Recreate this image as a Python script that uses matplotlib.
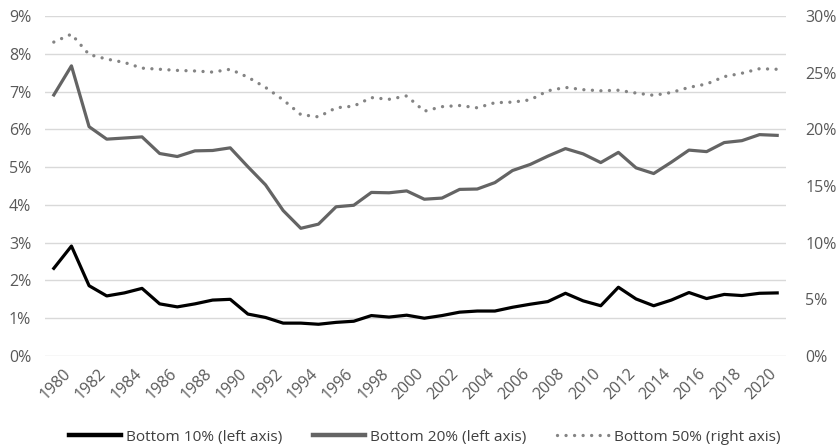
import numpy as np
import matplotlib.pyplot as plt
from matplotlib.ticker import FuncFormatter
from matplotlib.transforms import ScaledTranslation

plt.rcParams['font.family'] = ['Open Sans', 'DejaVu Sans']

years = list(range(1980, 2022))

# share of income, percent (left axis)
bottom10 = [2.32, 2.91, 1.86, 1.59, 1.67, 1.79, 1.38, 1.30, 1.38, 1.48, 1.50,
            1.11, 1.02, 0.87, 0.87, 0.84, 0.89, 0.92, 1.07, 1.03, 1.08,
            1.00, 1.07, 1.16, 1.19, 1.19, 1.29, 1.37, 1.44, 1.66, 1.46,
            1.33, 1.82, 1.51, 1.33, 1.48, 1.68, 1.52, 1.63, 1.60, 1.66, 1.67]
bottom20 = [6.91, 7.68, 6.07, 5.74, 5.77, 5.80, 5.36, 5.28, 5.43, 5.44, 5.51,
            5.01, 4.53, 3.85, 3.38, 3.49, 3.95, 3.99, 4.33, 4.32, 4.37,
            4.15, 4.18, 4.41, 4.42, 4.59, 4.91, 5.07, 5.29, 5.49, 5.35,
            5.12, 5.39, 4.98, 4.83, 5.13, 5.45, 5.41, 5.65, 5.70, 5.86, 5.84]
# right axis
bottom50 = [27.7, 28.4, 26.6, 26.2, 25.9, 25.4, 25.3, 25.2, 25.15, 25.05, 25.3,
            24.6, 23.7, 22.6, 21.3, 21.1, 21.9, 22.05, 22.8, 22.65, 22.95,
            21.6, 22.0, 22.1, 21.9, 22.35, 22.4, 22.6, 23.4, 23.7, 23.5,
            23.4, 23.45, 23.2, 23.0, 23.25, 23.7, 24.0, 24.65, 24.95, 25.35, 25.3]

fig = plt.figure(figsize=(8.36, 4.47), dpi=100)
ax = fig.add_axes([0.0538, 0.2036, 0.8864, 0.7606])
ax2 = ax.twinx()

x = np.arange(len(years))
l1, = ax.plot(x, bottom10, color='black', lw=2.3, solid_joinstyle='round', zorder=3)
l2, = ax.plot(x, bottom20, color='#646464', lw=2.3, solid_joinstyle='round', zorder=3)
l3, = ax2.plot(x, bottom50, color='#848484', lw=2.4, linestyle=(0, (0.01, 2.55)),
               dash_capstyle='round')

ax.set_xlim(-0.5, len(years) - 0.5)
ax.set_ylim(0, 9)
ax2.set_ylim(0, 30)
ax.set_yticks(np.arange(0, 10, 1))
ax2.set_yticks(np.arange(0, 31, 5))
ax.yaxis.set_major_formatter(FuncFormatter(lambda v, p: f'{v:.0f}%'))
ax2.yaxis.set_major_formatter(FuncFormatter(lambda v, p: f'{v:.0f}%'))

# year labels drawn by hand so they can sit a bit right/below the tick
ax.set_xticks(x[::2])
ax.set_xticklabels([])
shift = ax.get_xaxis_transform() + ScaledTranslation(9 / 100, -10 / 100, fig.dpi_scale_trans)
for xi, yr in zip(x[::2], years[::2]):
    ax.text(xi, 0, str(yr), transform=shift, rotation=45, ha='right', va='top',
            rotation_mode='anchor', fontsize=11.5, color='#595959')

ax.grid(axis='y', color='#d9d9d9', lw=1)
ax.set_axisbelow(True)
for a in (ax, ax2):
    for s in a.spines.values():
        s.set_visible(False)
    a.tick_params(length=0, labelsize=11.5, labelcolor='#595959')
ax.tick_params(axis='y', pad=10)
ax2.tick_params(axis='y', pad=14)

leg = fig.legend([l1, l2, l3],
                 ['Bottom 10% (left axis)', 'Bottom 20% (left axis)', 'Bottom 50% (right axis)'],
                 loc='center', bbox_to_anchor=(0.508, 0.022), ncol=3, frameon=False,
                 fontsize=11.1, labelcolor='#404040', handlelength=3.4, handletextpad=0.3,
                 columnspacing=2.0)
for h in leg.legend_handles[:2]:
    h.set_linewidth(3.2)

fig.savefig('out.png', dpi=100)
